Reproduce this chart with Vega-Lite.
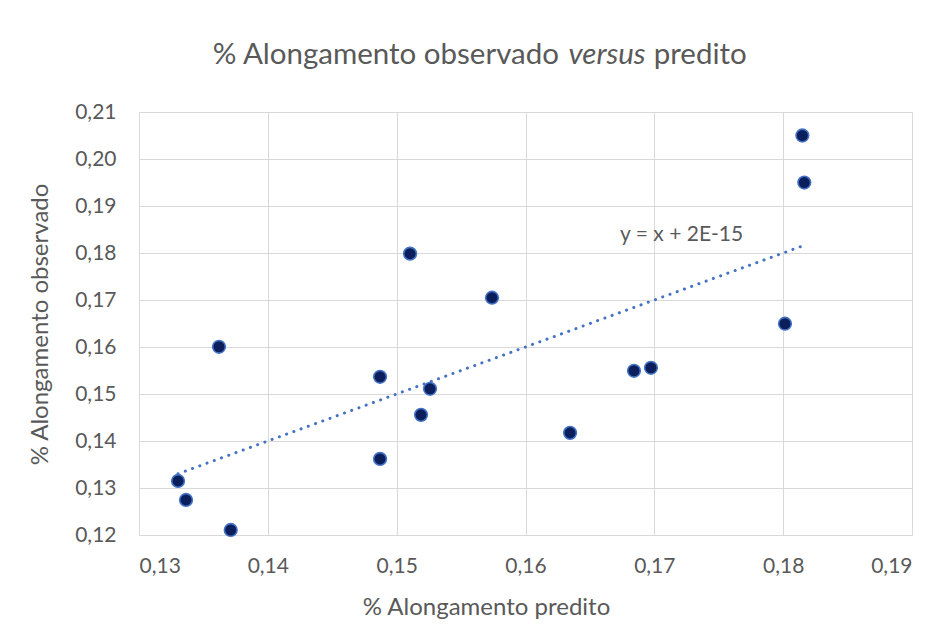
{
  "$schema": "https://vega.github.io/schema/vega-lite/v6.json",
  "width": 773,
  "height": 423,
  "autosize": "none",
  "padding": {"left": 139, "top": 112, "right": 24, "bottom": 92},
  "background": "white",
  "config": {
    "font": "Lato",
    "view": {"stroke": null},
    "axis": {
      "gridColor": "#d9d9d9",
      "gridWidth": 1,
      "domain": false,
      "ticks": false,
      "labelColor": "#595959",
      "labelFont": "Lato",
      "labelFontSize": 21,
      "titleColor": "#595959",
      "titleFont": "Lato",
      "titleFontSize": 24,
      "titleFontWeight": "normal"
    }
  },
  "datasets": {
    "pts": [
      {"pred": 0.13303, "obs": 0.13150},
      {"pred": 0.13365, "obs": 0.12746},
      {"pred": 0.13712, "obs": 0.12107},
      {"pred": 0.13621, "obs": 0.16005},
      {"pred": 0.14871, "obs": 0.15366},
      {"pred": 0.14871, "obs": 0.13619},
      {"pred": 0.15104, "obs": 0.17986},
      {"pred": 0.15259, "obs": 0.15110},
      {"pred": 0.15189, "obs": 0.14556},
      {"pred": 0.15740, "obs": 0.17049},
      {"pred": 0.16346, "obs": 0.14173},
      {"pred": 0.16842, "obs": 0.15494},
      {"pred": 0.16974, "obs": 0.15558},
      {"pred": 0.18014, "obs": 0.16495},
      {"pred": 0.18149, "obs": 0.20500},
      {"pred": 0.18164, "obs": 0.19499}
    ],
    "trend": [
      {"pred": 0.13303, "obs": 0.13303},
      {"pred": 0.18164, "obs": 0.18164}
    ]
  },
  "layer": [
    {
      "data": {"name": "trend"},
      "mark": {"type": "line", "color": "#4472C4", "strokeWidth": 3, "strokeDash": [0.1, 7.6], "strokeCap": "round"},
      "encoding": {
        "x": {
          "field": "pred", "type": "quantitative",
          "scale": {"domain": [0.13, 0.19], "nice": false, "zero": false},
          "axis": {
            "values": [0.13, 0.14, 0.15, 0.16, 0.17, 0.18, 0.19],
            "format": ".2f",
            "labelExpr": "replace(datum.label, '.', ',')",
            "labelPadding": 20,
            "title": "% Alongamento predito",
            "titleX": 347,
            "titleY": 72,
            "titleAlign": "center",
            "titleBaseline": "middle"
          }
        },
        "y": {
          "field": "obs", "type": "quantitative",
          "scale": {"domain": [0.12, 0.21], "nice": false, "zero": false},
          "axis": {
            "values": [0.12, 0.13, 0.14, 0.15, 0.16, 0.17, 0.18, 0.19, 0.20, 0.21],
            "format": ".2f",
            "labelExpr": "replace(datum.label, '.', ',')",
            "labelPadding": 23,
            "title": "% Alongamento observado",
            "titleX": -99,
            "titleY": 212,
            "titleAngle": -90,
            "titleAlign": "center",
            "titleBaseline": "middle"
          }
        }
      }
    },
    {
      "data": {"name": "pts"},
      "mark": {"type": "point", "filled": true, "fill": "#0a1f5c", "stroke": "#4472C4", "strokeWidth": 1.6, "size": 160, "opacity": 1},
      "encoding": {
        "x": {"field": "pred", "type": "quantitative"},
        "y": {"field": "obs", "type": "quantitative"}
      }
    },
    {
      "data": {"values": [{"label": "y = x + 2E-15"}]},
      "mark": {"type": "text", "align": "left", "baseline": "middle", "fontSize": 21, "font": "Lato", "color": "#595959"},
      "encoding": {
        "x": {"datum": 0.16734, "type": "quantitative"},
        "y": {"datum": 0.1838, "type": "quantitative"},
        "text": {"field": "label"}
      }
    },
    {
      "data": {"values": [{"t": "% Alongamento observado"}]},
      "mark": {"type": "text", "align": "right", "baseline": "alphabetic", "fontSize": 29.5, "font": "Lato", "color": "#595959"},
      "encoding": {
        "x": {"datum": 0.1626, "type": "quantitative"},
        "y": {"datum": 0.2203, "type": "quantitative"},
        "text": {"field": "t"}
      }
    },
    {
      "data": {"values": [{"t": "versus"}]},
      "mark": {"type": "text", "align": "center", "baseline": "alphabetic", "fontSize": 29.5, "font": "Lato", "fontStyle": "italic", "color": "#595959"},
      "encoding": {
        "x": {"datum": 0.16633, "type": "quantitative"},
        "y": {"datum": 0.2203, "type": "quantitative"},
        "text": {"field": "t"}
      }
    },
    {
      "data": {"values": [{"t": "predito"}]},
      "mark": {"type": "text", "align": "left", "baseline": "alphabetic", "fontSize": 29.5, "font": "Lato", "color": "#595959"},
      "encoding": {
        "x": {"datum": 0.16995, "type": "quantitative"},
        "y": {"datum": 0.2203, "type": "quantitative"},
        "text": {"field": "t"}
      }
    }
  ]
}
